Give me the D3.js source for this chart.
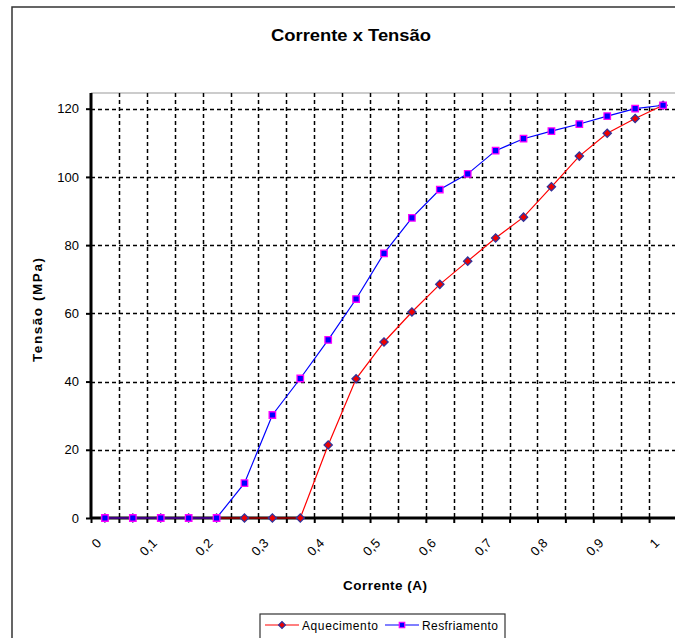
<!DOCTYPE html>
<html>
<head>
<meta charset="utf-8">
<script src="https://cdn.jsdelivr.net/npm/d3@7.9.0/dist/d3.min.js"></script>
<style>
  body { margin: 0; background: #fff; }
  svg { display: block; font-family: "Liberation Sans", Arial, sans-serif; }
</style>
</head>
<body>
<svg id="chart" width="675" height="638"></svg>
<script>
// corrente (A) - points sit halfway between the 0.05 gridlines
const corrente = [0.025, 0.075, 0.125, 0.175, 0.225, 0.275, 0.325, 0.375, 0.425, 0.475,
  0.525, 0.575, 0.625, 0.675, 0.725, 0.775, 0.825, 0.875, 0.925, 0.975, 1.025];
const aquecimento = [0, 0, 0, 0, 0, 0, 0, 0, 21.4, 40.8,
  51.6, 60.4, 68.5, 75.3, 82.1, 88.2, 97.1, 106.1, 112.8, 117.1, 121];
const resfriamento = [0, 0, 0, 0, 0, 10.2, 30.2, 40.9, 52.2, 64.2,
  77.6, 88, 96.3, 100.9, 107.7, 111.2, 113.4, 115.5, 117.8, 120, 121];
const xTicks = [0, 0.1, 0.2, 0.3, 0.4, 0.5, 0.6, 0.7, 0.8, 0.9, 1];
const yTicks = [0, 20, 40, 60, 80, 100, 120];

const svg = d3.select('#chart');

// outer chart frame (cut off at the right like the original)
svg.append('rect')
  .attr('x', 12).attr('y', 7)
  .attr('width', 700).attr('height', 700)
  .attr('fill', 'none').attr('stroke', '#333').attr('stroke-width', 1.5);

const x = d3.scaleLinear().domain([0, 1.05]).range([91, 677]);
const y = d3.scaleLinear().domain([0, 124.6]).range([518, 93]);

// plot area top border
svg.append('line')
  .attr('x1', x(0)).attr('x2', 675)
  .attr('y1', y.range()[1]).attr('y2', y.range()[1])
  .attr('stroke', '#999').attr('stroke-width', 1);

// grid
const gridX = d3.range(1, 22).map((i) => i * 0.05);
svg.append('g')
  .selectAll('line')
  .data(gridX)
  .join('line')
  .attr('x1', (d) => Math.round(x(d)) + 0.5).attr('x2', (d) => Math.round(x(d)) + 0.5)
  .attr('y1', y.range()[1]).attr('y2', y(0))
  .attr('stroke', '#000').attr('stroke-width', 1.5)
  .attr('stroke-dasharray', '4,3');

svg.append('g')
  .selectAll('line')
  .data(yTicks.slice(1))
  .join('line')
  .attr('x1', x(0)).attr('x2', 675)
  .attr('y1', (d) => Math.round(y(d)) + 0.5).attr('y2', (d) => Math.round(y(d)) + 0.5)
  .attr('stroke', '#000').attr('stroke-width', 1.5)
  .attr('stroke-dasharray', '4,3');

// axes
const fmt = (d) => String(d).replace('.', ',');

const xAxis = svg.append('g')
  .attr('transform', `translate(0,${y(0)})`)
  .call(d3.axisBottom(x).tickValues(gridX.concat([0])).tickSize(5).tickFormat(''));
xAxis.select('.domain').attr('stroke-width', 3).attr('d', `M${x(0)},0H675`);
xAxis.selectAll('.tick line').attr('stroke-width', 2);

svg.append('g')
  .selectAll('text')
  .data(xTicks)
  .join('text')
  .attr('transform', (d) => `translate(${x(d) + 11},${y(0) + 26}) rotate(-45)`)
  .attr('text-anchor', 'end')
  .attr('font-size', 13)
  .text(fmt);

const yAxis = svg.append('g')
  .attr('transform', `translate(${x(0)},0)`)
  .call(d3.axisLeft(y).tickValues(yTicks).tickSize(5).tickPadding(7));
yAxis.select('.domain').attr('stroke-width', 3).attr('d', `M0,${y.range()[1]}V${y(0) + 1}`);
yAxis.selectAll('.tick line').attr('stroke-width', 2);
yAxis.selectAll('.tick text').attr('font-size', 13).attr('font-family', '"Liberation Sans", Arial, sans-serif');

// lines
const series = [
  { name: 'Aquecimento', values: aquecimento, color: '#ff0000', square: false, fill: '#ee0000', edge: '#333399' },
  { name: 'Resfriamento', values: resfriamento, color: '#0000ff', square: true, fill: '#0000ff', edge: '#ff00ff' }
];

const line = d3.line()
  .x((d) => x(d[0]))
  .y((d) => y(d[1]));

for (const s of series) {
  const pts = corrente.map((c, i) => [c, s.values[i]]);
  svg.append('path')
    .datum(pts)
    .attr('d', line)
    .attr('fill', 'none')
    .attr('stroke', s.color)
    .attr('stroke-width', 1.2);
}

// diamonds are squares turned 45 degrees
for (const s of series) {
  const pts = corrente.map((c, i) => [c, s.values[i]]);
  const sym = d3.symbol().type(d3.symbolSquare).size(s.square ? 42 : 34);
  svg.append('g')
    .selectAll('path')
    .data(pts)
    .join('path')
    .attr('transform', (d) => `translate(${x(d[0])},${y(d[1])})` + (s.square ? '' : ' rotate(45)'))
    .attr('d', sym)
    .attr('fill', s.fill)
    .attr('stroke', s.edge)
    .attr('stroke-width', 1.3);
}

// titles
svg.append('text')
  .attr('x', 351).attr('y', 41)
  .attr('text-anchor', 'middle')
  .attr('font-size', 17).attr('font-weight', 'bold')
  .attr('textLength', 160).attr('lengthAdjust', 'spacingAndGlyphs')
  .text('Corrente x Tensão');

svg.append('text')
  .attr('x', 385).attr('y', 590)
  .attr('text-anchor', 'middle')
  .attr('font-size', 13.5).attr('font-weight', 'bold')
  .attr('textLength', 84)
  .text('Corrente (A)');

svg.append('text')
  .attr('transform', 'translate(42,310) rotate(-90)')
  .attr('text-anchor', 'middle')
  .attr('font-size', 13.5).attr('font-weight', 'bold')
  .attr('textLength', 104)
  .text('Tensão (MPa)');

// legend
const legend = svg.append('g').attr('transform', 'translate(260,614)');
legend.append('rect')
  .attr('width', 245).attr('height', 40)
  .attr('fill', '#fff').attr('stroke', '#333').attr('stroke-width', 1.2);

const items = legend.selectAll('g.item')
  .data(series)
  .join('g')
  .attr('class', 'item')
  .attr('transform', (d, i) => `translate(${i === 0 ? 5 : 125},11)`);

items.append('line')
  .attr('x1', 0).attr('x2', 34)
  .attr('stroke', (d) => d.color).attr('stroke-width', 1.2);
items.append('path')
  .attr('transform', (d) => 'translate(17,0)' + (d.square ? '' : ' rotate(45)'))
  .attr('d', (d) => d3.symbol().type(d3.symbolSquare).size(d.square ? 30 : 24)())
  .attr('fill', (d) => d.fill)
  .attr('stroke', (d) => d.edge)
  .attr('stroke-width', 1.2);
items.append('text')
  .attr('x', 37).attr('y', 4.5)
  .attr('font-size', 12)
  .attr('textLength', 76)
  .text((d) => d.name);
</script>
</body>
</html>
